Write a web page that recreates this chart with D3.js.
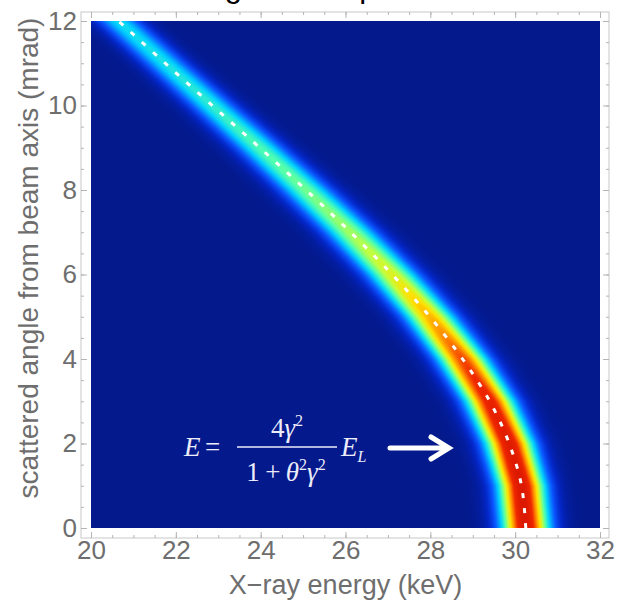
<!DOCTYPE html>
<html>
<head>
<meta charset="utf-8">
<script src="https://cdn.jsdelivr.net/npm/d3@7"></script>
<style>
body { margin: 0; background: #fff; }
svg { display: block; }
</style>
</head>
<body>
<script>

var angles = [0, 1, 2, 3, 4, 5, 6, 7, 8, 9, 10, 11, 12];

//Energy of the dashed ridge line at each angle (keV).
var peakEnergy = [30.25, 30.15, 29.86, 29.40, 28.76, 27.99, 27.10, 26.12, 25.07, 23.98, 22.86, 21.75, 20.65];

//Relative brightness on the ridge.
var peakLevel = [0.95, 0.95, 0.93, 0.89, 0.82, 0.70, 0.60, 0.53, 0.48, 0.44, 0.40, 0.37, 0.35];

//Energy spread of the band (keV, 1 sigma).
var spread = [0.39, 0.39, 0.40, 0.41, 0.42, 0.43, 0.44, 0.44, 0.43, 0.41, 0.39, 0.37, 0.36];

var xTicks = [20, 22, 24, 26, 28, 30, 32];
var yTicks = [0, 2, 4, 6, 8, 10, 12];

//Colour map (level -> colour).
var colorLevels = [0, 0.08, 0.18, 0.33, 0.45, 0.56, 0.65, 0.75, 0.85, 1.0];
var colorStops = ["#03198c", "#0326c8", "#0a55ff", "#00d0ff", "#50ffb0", "#c0ff40", "#ffe000", "#ff8c00", "#f02800", "#d01000"];


var width = 618, height = 606;
var font = "'Liberation Sans', Arial, Helvetica, sans-serif";

var x = d3.scaleLinear().domain([20, 32]).range([91, 600]);
var y = d3.scaleLinear().domain([0, 12]).range([528, 21]);

var energyAt = d3.scaleLinear().domain(angles).range(peakEnergy);
var levelAt = d3.scaleLinear().domain(angles).range(peakLevel);
var spreadAt = d3.scaleLinear().domain(angles).range(spread);
var color = d3.scaleLinear().domain(colorLevels).range(colorStops)
    .interpolate(d3.interpolateRgb).clamp(true);

var svg = d3.select("body").append("svg")
    .attr("width", width)
    .attr("height", height);

//Title, cut off by the top edge as in the original.
svg.append("text")
    .attr("x", 180)
    .attr("y", -3)
    .attr("font-family", font)
    .attr("font-size", 31)
    .attr("fill", "#000")
    .text("Single-shot spectrum");

//Density map painted on a canvas, then placed as an image.
var pw = Math.round(x.range()[1] - x.range()[0]);
var ph = Math.round(y.range()[0] - y.range()[1]);
var canvas = document.createElement("canvas");
canvas.width = pw;
canvas.height = ph;
var ctx = canvas.getContext("2d");
var img = ctx.createImageData(pw, ph);

var lut = [];
for (var i = 0; i <= 255; i++) {
    var c = d3.rgb(color(i / 255));
    lut.push([c.r, c.g, c.b]);
}

for (var py = 0; py < ph; py++) {
    var th = y.invert(y.range()[1] + py + 0.5);
    var ec = energyAt(th), lv = levelAt(th), sg = spreadAt(th);
    for (var px = 0; px < pw; px++) {
        var e = x.invert(x.range()[0] + px + 0.5);
        var d = (e - ec) / sg;
        var v = lv * Math.exp(-0.5 * d * d);
        var c = lut[Math.max(0, Math.min(255, Math.round(v * 255)))];
        var k = (py * pw + px) * 4;
        img.data[k] = c[0];
        img.data[k + 1] = c[1];
        img.data[k + 2] = c[2];
        img.data[k + 3] = 255;
    }
}
ctx.putImageData(img, 0, 0);

svg.append("image")
    .attr("x", x.range()[0])
    .attr("y", y.range()[1])
    .attr("width", pw)
    .attr("height", ph)
    .attr("href", canvas.toDataURL());

//Clip for the ridge line.
svg.append("clipPath").attr("id", "plot")
    .append("rect")
    .attr("x", x.range()[0]).attr("y", y.range()[1])
    .attr("width", pw).attr("height", ph);

var ridge = d3.line()
    .x(function(d, i) { return x(peakEnergy[i]); })
    .y(function(d) { return y(d); })
    .curve(d3.curveCatmullRom);

svg.append("path")
    .datum(angles)
    .attr("clip-path", "url(#plot)")
    .attr("d", ridge)
    .attr("fill", "none")
    .attr("stroke", "#fff")
    .attr("stroke-width", 3)
    .attr("stroke-dasharray", "5,10");

//Frame around the plot.
var fl = 81, fr = 609, ft = 12, fb = 538;
svg.append("rect")
    .attr("x", fl).attr("y", ft)
    .attr("width", fr - fl).attr("height", fb - ft)
    .attr("fill", "none")
    .attr("stroke", "#c8c8c8")
    .attr("stroke-width", 1);

var minorX = d3.range(20, 32.01, 0.5);
var minorY = d3.range(0, 12.01, 0.5);

function frameAxis(axis, tx, ty, ticks, size, labels) {
    var g = svg.append("g")
        .attr("transform", "translate(" + tx + "," + ty + ")")
        .call(axis.tickValues(ticks).tickSizeInner(-size).tickSizeOuter(0)
            .tickFormat(labels ? d3.format("d") : ""));
    g.select(".domain").remove();
    g.selectAll(".tick line").attr("stroke", "#b4b4b4");
    g.selectAll(".tick text")
        .attr("fill", "#6e6e6e")
        .attr("font-family", font)
        .attr("font-size", 26);
    return g;
}

frameAxis(d3.axisBottom(x).tickPadding(3), 0, fb, minorX, 3, false);
frameAxis(d3.axisBottom(x).tickPadding(3), 0, fb, xTicks, 6, true);
frameAxis(d3.axisTop(x), 0, ft, minorX, 3, false);
frameAxis(d3.axisTop(x), 0, ft, xTicks, 6, false);
frameAxis(d3.axisLeft(y).tickPadding(4), fl, 0, minorY, 3, false);
frameAxis(d3.axisLeft(y).tickPadding(4), fl, 0, yTicks, 6, true);
frameAxis(d3.axisRight(y), fr, 0, minorY, 3, false);
frameAxis(d3.axisRight(y), fr, 0, yTicks, 6, false);

//Axis titles.
svg.append("text")
    .attr("x", (x.range()[0] + x.range()[1]) / 2)
    .attr("y", 594)
    .attr("text-anchor", "middle")
    .attr("font-family", font)
    .attr("font-size", 27)
    .attr("fill", "#6e6e6e")
    .text("X\u2212ray energy (keV)");

svg.append("text")
    .attr("transform", "translate(38,258) rotate(-90)")
    .attr("text-anchor", "middle")
    .attr("font-family", font)
    .attr("font-size", 28)
    .attr("fill", "#6e6e6e")
    .text("scattered angle from beam axis (mrad)");

//Formula E = 4γ²/(1+θ²γ²) E_L.
var serif = "'Liberation Serif', 'Times New Roman', serif";
var ink = "#ececfa";
var eq = svg.append("g")
    .attr("fill", ink)
    .attr("font-family", serif)
    .attr("font-size", 27);

eq.append("text").attr("x", 184).attr("y", 456)
    .attr("font-style", "italic").text("E");
eq.append("text").attr("x", 205).attr("y", 456).text("=");

var t2 = eq.append("text").attr("x", 287).attr("y", 437).attr("text-anchor", "middle");
t2.append("tspan").text("4");
t2.append("tspan").attr("font-style", "italic").text("\u03b3");
t2.append("tspan").attr("font-size", 16).attr("dy", -11).text("2");

eq.append("line")
    .attr("x1", 237).attr("x2", 337)
    .attr("y1", 447).attr("y2", 447)
    .attr("stroke", ink)
    .attr("stroke-width", 1.6);

var t3 = eq.append("text").attr("x", 286).attr("y", 481).attr("text-anchor", "middle");
t3.append("tspan").text("1\u2009+\u2009");
t3.append("tspan").attr("font-style", "italic").text("\u03b8");
t3.append("tspan").attr("font-size", 16).attr("dy", -11).text("2");
t3.append("tspan").attr("font-style", "italic").attr("dy", 11).text("\u03b3");
t3.append("tspan").attr("font-size", 16).attr("dy", -11).text("2");

var t4 = eq.append("text").attr("x", 341).attr("y", 456);
t4.append("tspan").attr("font-style", "italic").text("E");
t4.append("tspan").attr("font-style", "italic").attr("font-size", 16).attr("dy", 6).text("L");

//Arrow pointing at the ridge.
svg.append("path")
    .attr("d", "M390,448H448M431,437L449,448L431,459")
    .attr("fill", "none")
    .attr("stroke", "#fff")
    .attr("stroke-width", 5)
    .attr("stroke-linecap", "round")
    .attr("stroke-linejoin", "miter");

</script>
</body>
</html>
